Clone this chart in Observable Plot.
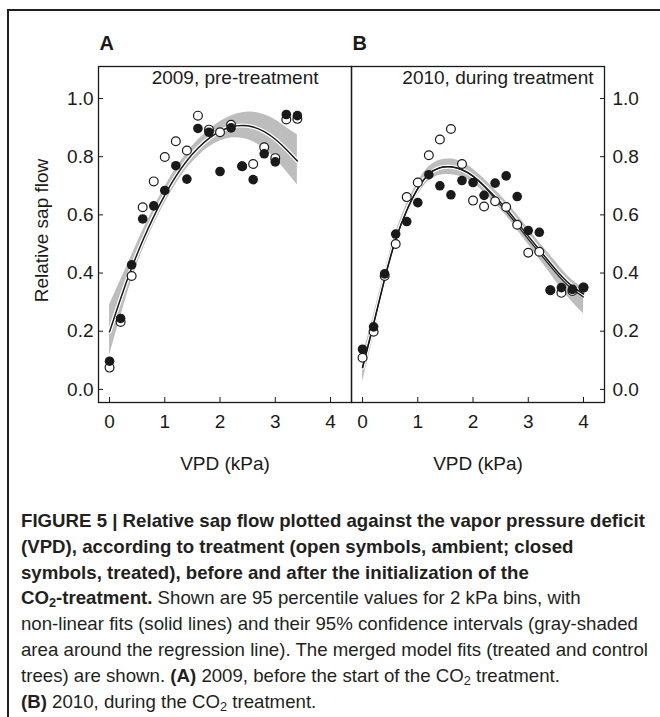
<!DOCTYPE html>
<html><head><meta charset="utf-8">
<script src="https://cdn.jsdelivr.net/npm/d3@7"></script>
<script src="https://cdn.jsdelivr.net/npm/@observablehq/plot@0.6"></script>
<style>
body{margin:0;background:#fff;width:660px;height:717px;overflow:hidden;position:relative;font-family:"Liberation Sans",Arial,sans-serif;}
#border{position:absolute;left:7px;top:9px;width:700px;height:760px;border:2px solid #231f20;box-sizing:border-box;}
#chart{position:absolute;left:0;top:0;}
#caption{position:absolute;left:21px;top:508px;font-size:18.5px;line-height:25.8px;color:#231f20;font-family:"Liberation Sans Narrow","Arial Narrow","Liberation Sans",Arial,sans-serif;}
#caption .ln{white-space:nowrap;transform-origin:0 0;}
#caption .ln span.in{display:inline-block;}
#caption sub{font-size:0.68em;vertical-align:-0.22em;line-height:0;}
</style></head><body>
<div id="border"></div>
<div id="chart"></div>
<div id="caption">
<div class="ln"><span class="in"><b>FIGURE 5 | Relative sap flow plotted against the vapor pressure deficit</b></span></div>
<div class="ln"><span class="in"><b>(VPD), according to treatment (open symbols, ambient; closed</b></span></div>
<div class="ln"><span class="in"><b>symbols, treated), before and after the initialization of the</b></span></div>
<div class="ln"><span class="in"><b>CO<sub>2</sub>-treatment.</b> Shown are 95 percentile values for 2 kPa bins, with</span></div>
<div class="ln"><span class="in">non-linear fits (solid lines) and their 95% confidence intervals (gray-shaded</span></div>
<div class="ln"><span class="in">area around the regression line). The merged model fits (treated and control</span></div>
<div class="ln"><span class="in">trees) are shown. <b>(A)</b> 2009, before the start of the CO<sub>2</sub> treatment.</span></div>
<div class="ln"><span class="in"><b>(B)</b> 2010, during the CO<sub>2</sub> treatment.</span></div>
</div>
<script>
// ---- Data ----
const panels = ["A", "B"];
const panelTitles = ["2009, pre-treatment", "2010, during treatment"];
const xTicks = [0, 1, 2, 3, 4];
const yTicks = [0, 0.2, 0.4, 0.6, 0.8, 1.0];

// Panel A (2009)
const vpdA = [0, 0.2, 0.4, 0.6, 0.8, 1.0, 1.2, 1.4, 1.6, 1.8, 2.0, 2.2, 2.4, 2.6, 2.8, 3.0, 3.2, 3.4];
const ambientA = [0.075, 0.232, 0.390, 0.626, 0.715, 0.799, 0.853, 0.821, 0.941, 0.893, 0.884, 0.910, 0.767, 0.775, 0.832, 0.795, 0.928, 0.930];
const treatedA = [0.097, 0.244, 0.428, 0.586, 0.631, 0.684, 0.769, 0.723, 0.897, 0.884, 0.749, 0.899, 0.767, 0.721, 0.810, 0.782, 0.945, 0.941];
const fitA = [0.198, 0.312, 0.417, 0.511, 0.594, 0.668, 0.732, 0.786, 0.829, 0.863, 0.887, 0.902, 0.907, 0.902, 0.886, 0.860, 0.825, 0.785];
const loA  = [0.117, 0.250, 0.375, 0.478, 0.565, 0.640, 0.705, 0.759, 0.801, 0.833, 0.854, 0.864, 0.863, 0.851, 0.828, 0.793, 0.750, 0.703];
const hiA  = [0.290, 0.375, 0.460, 0.545, 0.624, 0.696, 0.759, 0.813, 0.857, 0.893, 0.920, 0.940, 0.951, 0.953, 0.944, 0.927, 0.900, 0.875];

// Panel B (2010)
const vpdB = [0, 0.2, 0.4, 0.6, 0.8, 1.0, 1.2, 1.4, 1.6, 1.8, 2.0, 2.2, 2.4, 2.6, 2.8, 3.0, 3.2, 3.4, 3.6, 3.8, 4.0];
const ambientB = [0.109, 0.198, 0.390, 0.500, 0.661, 0.711, 0.805, 0.859, 0.895, 0.775, 0.649, 0.629, 0.647, 0.627, 0.566, 0.470, 0.473, 0.341, 0.332, 0.338, 0.350];
const treatedB = [0.138, 0.215, 0.397, 0.534, 0.577, 0.642, 0.738, 0.700, 0.669, 0.718, 0.711, 0.667, 0.709, 0.734, 0.663, 0.546, 0.540, 0.341, 0.350, 0.344, 0.350];
const fitB  = [0.075, 0.225, 0.380, 0.515, 0.615, 0.690, 0.740, 0.762, 0.765, 0.755, 0.733, 0.700, 0.662, 0.622, 0.575, 0.527, 0.480, 0.434, 0.390, 0.354, 0.328];
const fitB2 = [0.075, 0.225, 0.380, 0.515, 0.615, 0.690, 0.740, 0.762, 0.765, 0.755, 0.733, 0.698, 0.655, 0.612, 0.565, 0.517, 0.470, 0.424, 0.380, 0.344, 0.318];
const loB   = [0.025, 0.185, 0.350, 0.490, 0.592, 0.668, 0.716, 0.736, 0.738, 0.730, 0.710, 0.677, 0.638, 0.597, 0.548, 0.498, 0.448, 0.398, 0.345, 0.300, 0.260];
const hiB   = [0.115, 0.255, 0.405, 0.538, 0.637, 0.713, 0.765, 0.788, 0.792, 0.782, 0.758, 0.724, 0.686, 0.646, 0.600, 0.552, 0.505, 0.460, 0.415, 0.375, 0.350];

// ---- Build tables ----
const pts = [];
vpdA.forEach((v, i) => {
  pts.push({panel: "A", vpd: v, sap: ambientA[i], grp: "ambient"});
  pts.push({panel: "A", vpd: v, sap: treatedA[i], grp: "treated"});
});
vpdB.forEach((v, i) => {
  pts.push({panel: "B", vpd: v, sap: ambientB[i], grp: "ambient"});
  pts.push({panel: "B", vpd: v, sap: treatedB[i], grp: "treated"});
});
const fits = [];
vpdA.forEach((v, i) => fits.push({panel: "A", vpd: v, fit: fitA[i], lo: loA[i], hi: hiA[i]}));
vpdB.forEach((v, i) => fits.push({panel: "B", vpd: v, fit: fitB[i], lo: loB[i], hi: hiB[i]}));
const fits2 = vpdB.map((v, i) => ({panel: "B", vpd: v, fit: fitB2[i]}));
const panelRows = panels.map((p, i) => ({panel: p, title: panelTitles[i]}));

const ink = "#1a1a1a";
const chart = Plot.plot({
  width: 660,
  height: 490,
  marginTop: 66,
  marginBottom: 88,
  marginLeft: 97,
  marginRight: 56,
  style: {fontFamily: "'Liberation Sans', Arial, sans-serif", fontSize: "19px", color: ink, background: "transparent"},
  fx: {domain: panels, padding: 0, axis: null, label: null},
  x: {domain: [-0.2, 4.38]},
  y: {domain: [-0.045, 1.11]},
  marks: [
    Plot.areaY(fits, {fx: "panel", x: "vpd", y1: "lo", y2: "hi", fill: "#bdbdbd", curve: "natural"}),
    Plot.lineY(fits, {fx: "panel", x: "vpd", y: "fit", stroke: "white", strokeWidth: 4, curve: "natural"}),
    Plot.lineY(fits, {fx: "panel", x: "vpd", y: "fit", stroke: ink, strokeWidth: 1.5, curve: "natural"}),
    Plot.lineY(fits2, {fx: "panel", x: "vpd", y: "fit", stroke: ink, strokeWidth: 1.2, curve: "natural"}),
    Plot.frame({stroke: ink, strokeWidth: 1.3}),
    Plot.dot(pts.filter(d => d.grp === "ambient"), {fx: "panel", x: "vpd", y: "sap", r: 4.4, fill: "white", stroke: ink, strokeWidth: 1.2}),
    Plot.dot(pts.filter(d => d.grp === "treated"), {fx: "panel", x: "vpd", y: "sap", r: 4.8, fill: ink}),
    Plot.axisX({ticks: xTicks, tickSize: -5, tickPadding: 17, tickFormat: d => String(d), label: null, stroke: ink}),
    Plot.axisY({anchor: "left", ticks: yTicks, tickSize: -5, tickPadding: 10, tickFormat: ".1f", label: null, stroke: ink}),
    Plot.axisY({anchor: "right", ticks: yTicks, tickSize: -5, tickPadding: 13, tickFormat: ".1f", label: null, stroke: ink}),
    Plot.text(panelRows, {fx: "panel", text: "panel", frameAnchor: "top-left", textAnchor: "start", lineAnchor: "middle", dx: 1, dy: -23, fontWeight: "bold", fontSize: 20, fill: ink}),
    Plot.text(panelRows.filter(d => d.panel === "A"), {fx: "panel", text: "title", frameAnchor: "top-right", textAnchor: "end", lineAnchor: "middle", dx: -33, dy: 11, fill: ink}),
    Plot.text(panelRows.filter(d => d.panel === "B"), {fx: "panel", text: "title", frameAnchor: "top-right", textAnchor: "end", lineAnchor: "middle", dx: -11, dy: 11, fill: ink}),
    Plot.text(panelRows, {fx: "panel", text: () => "VPD (kPa)", frameAnchor: "bottom", textAnchor: "middle", lineAnchor: "middle", dy: 61, fill: ink}),
    Plot.text(panelRows.filter(d => d.panel === "A"), {fx: "panel", text: () => "Relative sap flow", frameAnchor: "left", rotate: -90, textAnchor: "middle", lineAnchor: "middle", dx: -57, dy: -4, fill: ink})
  ]
});
document.getElementById("chart").appendChild(chart);

// one common horizontal scale so the caption's first line spans the same width as in the reference
const lines = document.querySelectorAll("#caption .ln");
const w1 = lines[0].querySelector(".in").getBoundingClientRect().width;
const s = Math.max(0.7, Math.min(1.2, 624 / w1));
lines.forEach(l => { l.style.transform = `scaleX(${s})`; });
</script>
</body></html>
